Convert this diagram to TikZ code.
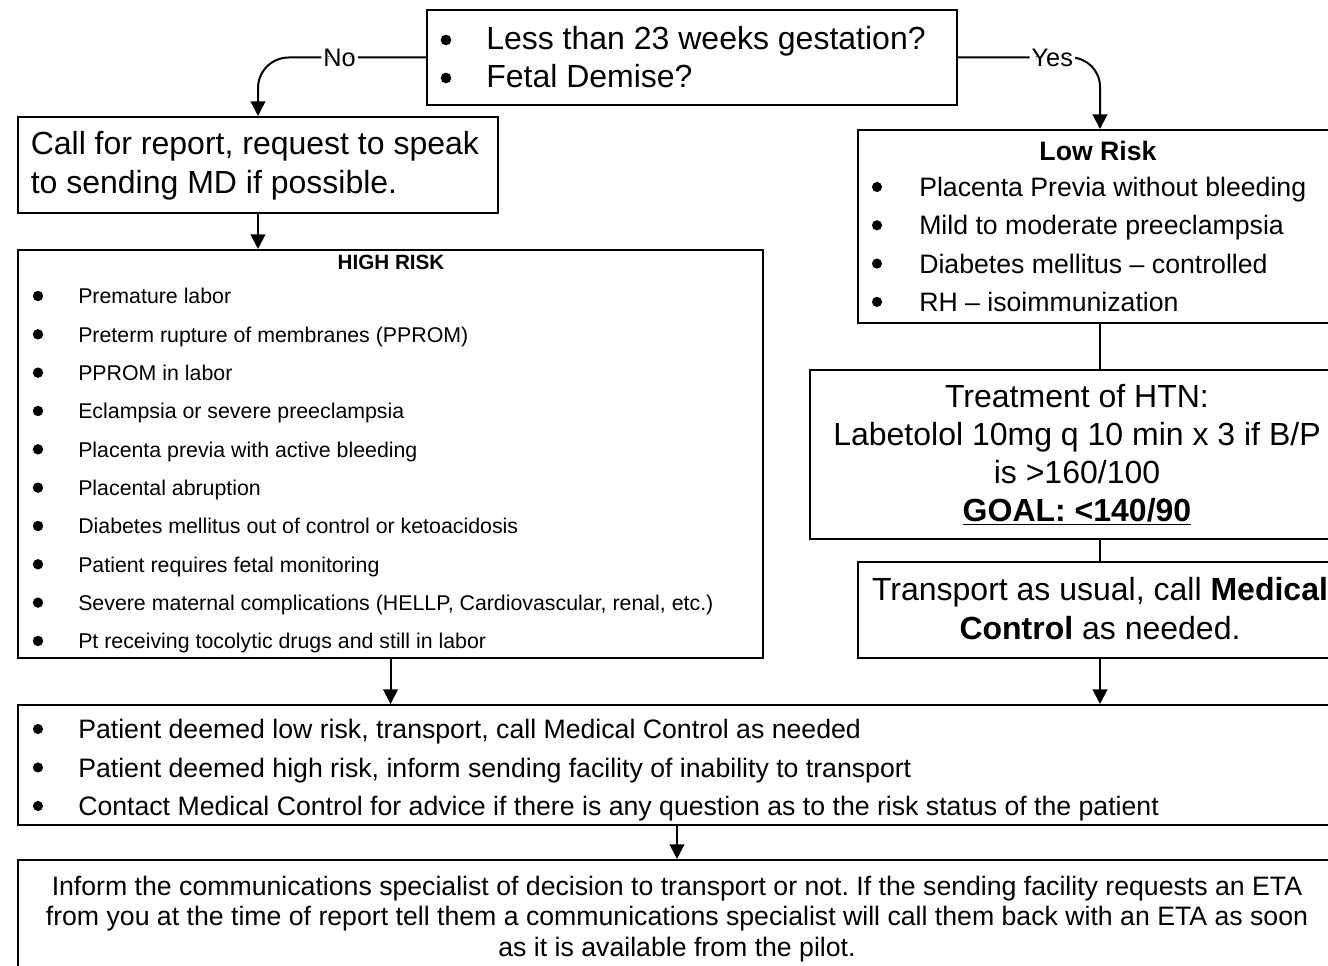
\documentclass[tikz,border=0pt]{standalone}
\usepackage{fontspec}
\setmainfont{Liberation Sans}
\usetikzlibrary{arrows.meta,fit}
\frenchspacing
\newcommand\myul[1]{\setbox0\hbox{#1}\rlap{\raisebox{-3.2pt}{\rule{\wd0}{1.3pt}}}\box0}
\begin{document}
\begin{tikzpicture}[x=0.75pt,y=-0.75pt,
  box/.style={draw, line width=1.5pt, inner sep=0pt, rectangle},
  conn/.style={line width=1.5pt},
  arr/.style={conn, -{Triangle[length=11pt,width=11pt]}},
  txt/.style={inner sep=0pt, anchor=base west},
  ctxt/.style={inner sep=0pt, anchor=base},
  big/.style={font=\fontsize{24}{28}\selectfont},
  hrfont/.style={font=\fontsize{16}{19}\selectfont},
  lrfont/.style={font=\fontsize{20}{24}\selectfont},
  midfont/.style={font=\fontsize{20}{24}\selectfont},
  lab/.style={fill=white, inner sep=1.5pt, font=\fontsize{19}{22}\selectfont}
]
\clip (0,0) rectangle (1328,966);

% boxes
\node[box, fit={(427,10) (957,105)}] (top) {};
\node[box, fit={(18,117) (498,213)}] (call) {};
\node[box, fit={(18,250) (763,658)}] (high) {};
\node[box, fit={(858,130) (1342,323)}] (low) {};
\node[box, fit={(810,370) (1344,539)}] (treat) {};
\node[box, fit={(858,562) (1342,658)}] (trans) {};
\node[box, fit={(18,705) (1336,825)}] (mid) {};
\node[box, fit={(18,860) (1336,985)}] (bot) {};

% top box
\fill (446,40) circle (4pt);
\fill (446,78) circle (4pt);
\node[txt, big] (t1) at (486,49.5) {Less than 23 weeks gestation?};
\node[txt, big] (t2) at (486,88) {Fetal Demise?};

% call box
\node[txt, big] (c1) at (30.5,155) {Call for report, request to speak};
\node[txt, big] (c2) at (30.5,194) {to sending MD if possible.};

% high risk
\node[ctxt, font=\bfseries\fontsize{15.5}{18}\selectfont] (hrt) at (391,270) {HIGH RISK};
\foreach \t [count=\i from 0] in {{Premature labor},{Preterm rupture of membranes (PPROM)},{PPROM in labor},{Eclampsia or severe preeclampsia},{Placenta previa with active bleeding},{Placental abruption},{Diabetes mellitus out of control or ketoacidosis},{Patient requires fetal monitoring},{Severe maternal complications (HELLP, Cardiovascular, renal, etc.)},{Pt receiving tocolytic drugs and still in labor}}{
  \fill (38,{296+38.33*\i}) circle (3.9pt);
  \node[txt, hrfont] (hr\i) at (78,{304+38.33*\i}) {\t};
}

% low risk
\node[ctxt, font=\bfseries\fontsize{20}{24}\selectfont] (lrt) at (1098,160.5) {Low Risk};
\foreach \t [count=\i from 0] in {{Placenta Previa without bleeding},{Mild to moderate preeclampsia},{Diabetes mellitus – controlled},{RH – isoimmunization}}{
  \fill (877,{187+38.3*\i}) circle (3.8pt);
  \node[txt, lrfont] (lr\i) at (919,{196.5+38.3*\i}) {\t};
}

% treatment
\node[ctxt, big] (tr1) at (1077,407) {Treatment of HTN:};
\node[ctxt, big] (tr2) at (1077,445) {Labetolol 10mg q 10 min x 3 if B/P};
\node[ctxt, big] (tr3) at (1077,483) {is >160/100};
\node[ctxt, big] (tr4) at (1077,521) {\bfseries\myul{GOAL: <140/90}};

% transport
\node[ctxt, big] (tp1) at (1100,600) {Transport as usual, call \textbf{Medical}};
\node[ctxt, big] (tp2) at (1100,639) {\textbf{Control} as needed.};

% middle
\foreach \t [count=\i from 0] in {{Patient deemed low risk, transport, call Medical Control as needed},{Patient deemed high risk, inform sending facility of inability to transport},{Contact Medical Control for advice if there is any question as to the risk status of the patient}}{
  \fill (38,{729+38.5*\i}) circle (3.8pt);
  \node[txt, midfont] (md\i) at (78,{738.5+38.5*\i}) {\t};
}

% bottom
\node[ctxt, midfont] (b1) at (677,895.5) {Inform the communications specialist of decision to transport or not. If the sending facility requests an ETA};
\node[ctxt, midfont] (b2) at (677,925.5) {from you at the time of report tell them a communications specialist will call them back with an ETA as soon};
\node[ctxt, midfont] (b3) at (677,956) {as it is available from the pilot.};

% connectors
\draw[arr, rounded corners=23pt] (top.west) -| node[lab, pos=0.257] (nolab) {No} (call.north);
\draw[arr, rounded corners=22pt] (top.east) -| node[lab, pos=0.332] (yeslab) {Yes} (low.north);
\draw[arr] (call.south) -- (call.south |- high.north);
\draw[conn] (low.south) -- (low.south |- treat.north);
\draw[conn] (trans.north |- treat.south) -- (trans.north);
\draw[arr] (trans.south) -- (trans.south |- mid.north);
\draw[arr] (high.south) -- (high.south |- mid.north);
\draw[arr] (mid.south) -- (bot.north);
\end{tikzpicture}
\end{document}
